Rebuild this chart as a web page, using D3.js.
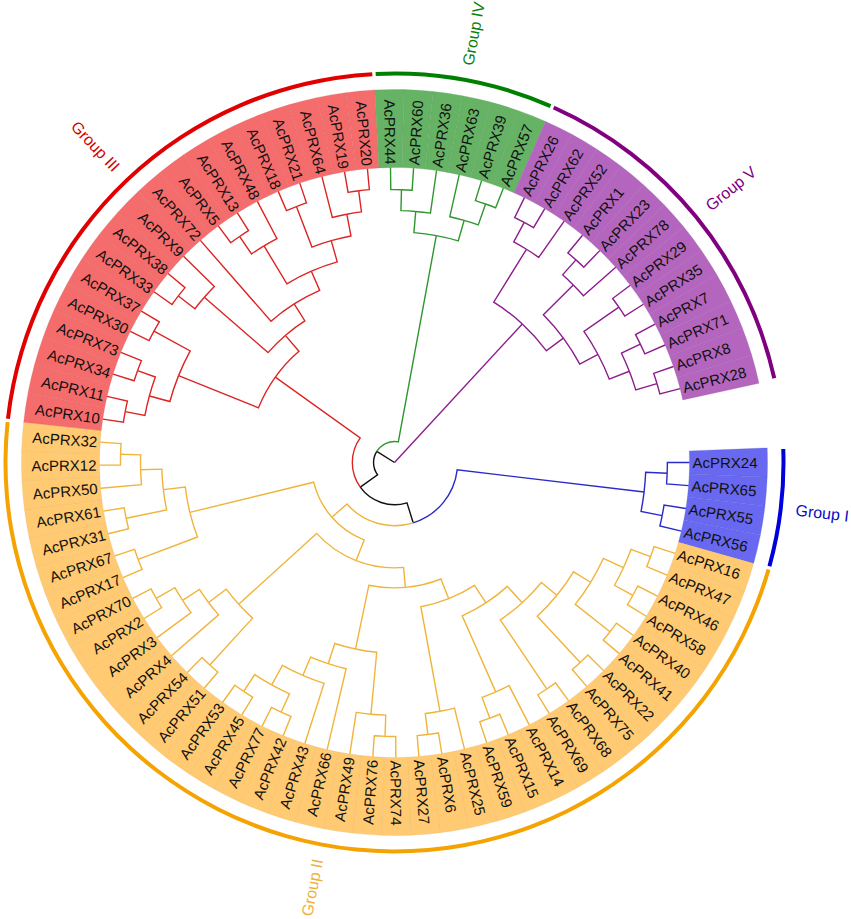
<!DOCTYPE html>
<html>
<head>
<meta charset="utf-8">
<script src="https://cdn.jsdelivr.net/npm/d3@7"></script>
<style>
  body { margin: 0; background: #fff; }
  svg { display: block; }
  text { font-family: "Liberation Sans", Arial, sans-serif; }
</style>
</head>
<body>
<svg id="tree" width="851" height="919"></svg>
<script>
(function () {
    // leaf order, clockwise, starting with AcPRX24 at 3 o'clock
    const leafOrder = [24, 65, 55, 56,
        16, 47, 46, 58, 40, 41, 22, 75, 68, 69, 14, 15, 59, 25, 6, 27, 74, 76, 49, 66,
        43, 42, 77, 45, 53, 51, 54, 4, 3, 2, 70, 17, 67, 31, 61, 50, 12, 32,
        10, 11, 34, 73, 30, 37, 33, 38, 9, 72, 5, 13, 48, 18, 21, 64, 19, 20,
        44, 60, 36, 63, 39, 57,
        26, 62, 52, 1, 23, 78, 29, 35, 7, 71, 8, 28]

    // subtrees per group, node depth after ")" (leaf depth = 100)
    const groupNames = ["Group I", "Group II", "Group III", "Group IV", "Group V"]
    const groupTrees = [
        "((24,65)92.5,(55,56)92.5)85.2",
        "((((((((((16,47)92.5,(46,58)92.5)85.4,(40,41)92.9)77.9,(22,75)92.5)71.1,(68,69)92.5)64.3,(14,(15,59)92.5)85.0)56.8,(25,(6,27)92.9)85.7)49.7,(((74,76)92.9,49)85.7,(66,(43,((42,77)92.9,(45,53)92.9)86.1)78.6)71.8)64.6)42.5,((51,54)92.9,(4,(3,(2,70)93.0)85.7)78.9)71.4)35.7,((17,67)92.9,((31,61)92.9,(50,(12,32)92.9)86.1)78.9)71.4)28.2",
        "((((10,11)92.9,(34,73)92.5)86.1,(30,37)92.9)78.9,(((33,38)92.5,9)85.4,(72,(((5,13)92.9,48)85.7,((18,21)92.9,(64,(19,20)92.9)85.7)78.2)70.7)63.6)56.8)49.7",
        "(((44,60)92.5,36)85.4,(63,(39,57)92.9)85.4)78.2",
        "(((26,62)92.5,52)85.0,(((1,23)92.2,78)85.4,((29,35)92.5,((7,71)92.5,(8,28)92.9)85.4)78.1)71.1)63.9"
    ]
    // backbone nodes joining the groups: root, (rest,IV), (rest,III), (I,II)
    const backboneDepths = [0, 7.1, 14.3, 21.4]

    const lineColors = ["#2a2ac8", "#f0b43a", "#dd2424", "#2e962e", "#8c1c8c"]
    const bandColors = ["#6868f0", "#ffca72", "#f56c6c", "#66b366", "#b466be"]
    const ringColors = ["#0000dd", "#f5a300", "#e00000", "#008000", "#800080"]
    const titleColors = ["#0a0ac4", "#f0b03c", "#d40000", "#0a800a", "#800080"]

    const cx = 394.5, cy = 462.5
    const leafR = 295, bandOuter = 373, ringR = 389, titleR = 404

    const svg = d3.select("#tree")
    svg.append("rect").attr("width", 851).attr("height", 919).attr("fill", "#fff")
    const chart = svg.append("g").attr("transform", `translate(${cx},${cy})`)

    //tiny newick reader: "(a,b)depth"
    function parseNewick(s) {
        let i = 0
        function node() {
            if (s[i] === "(") {
                i++
                const children = [node()]
                while (s[i] === ",") { i++; children.push(node()) }
                i++
                const m = /^[0-9.]+/.exec(s.slice(i))
                i += m[0].length
                return { d: +m[0], children: children }
            }
            const m = /^[0-9]+/.exec(s.slice(i))
            i += m[0].length
            return { id: +m[0], d: 100 }
        }
        return node()
    }

    const subs = groupTrees.map((s, gi) => {
        const t = parseNewick(s)
        const tag = (n) => { n.grp = gi; (n.children || []).forEach(tag) }
        tag(t)
        return t
    })

    const rootData = {
        d: backboneDepths[0], children: [
            { d: backboneDepths[1], children: [
                { d: backboneDepths[2], children: [
                    { d: backboneDepths[3], children: [subs[0], subs[1]] },
                    subs[2]] },
                subs[3]] },
            subs[4]]
    }

    const root = d3.hierarchy(rootData)

    // slot angle (degrees clockwise from 12 o'clock)
    const angle = d3.scaleLinear().domain([0, leafOrder.length - 1]).range([90, 435.5])
    const step = (435.5 - 90) / (leafOrder.length - 1)
    const radius = d3.scaleLinear().domain([0, 100]).range([0, leafR])

    root.eachAfter((n) => {
        if (!n.children) n.angle = angle(leafOrder.indexOf(n.data.id))
        else n.angle = (n.children[0].angle + n.children[n.children.length - 1].angle) / 2
        n.r = radius(n.data.d)
    })

    const rad = (deg) => (deg - 90) * Math.PI / 180
    const toRad = (deg) => deg * Math.PI / 180

    function linkPath(s, t) {
        const p = d3.path()
        const a0 = rad(s.angle), a1 = rad(t.angle)
        p.moveTo(s.r * Math.cos(a0), s.r * Math.sin(a0))
        if (s.r > 0) p.arc(0, 0, s.r, a0, a1, a1 < a0)
        p.lineTo(t.r * Math.cos(a1), t.r * Math.sin(a1))
        return p.toString()
    }

    function radial(theta, r) {
        const norm = ((theta % 360) + 360) % 360
        const flip = norm > 180
        return {
            transform: `rotate(${theta - 90}) translate(${r},0)` + (flip ? " rotate(180)" : ""),
            anchor: flip ? "end" : "start"
        }
    }

    const leaves = root.leaves()

    //label band cells
    const cell = d3.arc().innerRadius(leafR).outerRadius(bandOuter)
    chart.append("g")
        .selectAll("path")
        .data(leaves)
        .join("path")
        .attr("d", (d) => cell({ startAngle: toRad(d.angle - step / 2), endAngle: toRad(d.angle + step / 2) }))
        .attr("fill", (d) => bandColors[d.data.grp])
        .attr("stroke", (d) => d3.color(bandColors[d.data.grp]).darker(0.35))
        .attr("stroke-width", 0.6)
        .attr("stroke-opacity", 0.45)

    //group rings
    const ring = d3.arc().innerRadius(ringR - 2).outerRadius(ringR + 2)
    const groupSpan = groupNames.map((g, gi) => {
        const a = leaves.filter((d) => d.data.grp === gi).map((d) => d.angle)
        return [d3.min(a), d3.max(a)]
    })
    chart.append("g")
        .selectAll("path")
        .data(groupSpan)
        .join("path")
        .attr("d", (d) => ring({ startAngle: toRad(d[0] - step / 2 + 0.25), endAngle: toRad(d[1] + step / 2 - 0.25) }))
        .attr("fill", (d, i) => ringColors[i])

    //group titles
    chart.append("g")
        .selectAll("text")
        .data(groupSpan)
        .join("text")
        .each(function (d, i) {
            const pos = radial((d[0] + d[1]) / 2, titleR)
            d3.select(this).attr("transform", pos.transform).attr("text-anchor", pos.anchor)
        })
        .attr("dy", "0.35em")
        .attr("font-size", 16)
        .attr("fill", (d, i) => titleColors[i])
        .text((d, i) => groupNames[i])

    //branches
    chart.append("g")
        .attr("fill", "none")
        .selectAll("path")
        .data(root.links())
        .join("path")
        .attr("d", (l) => linkPath(l.source, l.target))
        .attr("stroke", (l) => l.target.data.grp === undefined ? "#111" : lineColors[l.target.data.grp])
        .attr("stroke-width", 1.4)

    //leaf labels
    chart.append("g")
        .selectAll("text")
        .data(leaves)
        .join("text")
        .each(function (d) {
            const pos = radial(d.angle, leafR + 3)
            d3.select(this).attr("transform", pos.transform).attr("text-anchor", pos.anchor)
        })
        .attr("dy", "0.36em")
        .attr("font-size", 15)
        .attr("fill", "#111")
        .text((d) => "AcPRX" + d.data.id)
})();
</script>
</body>
</html>
